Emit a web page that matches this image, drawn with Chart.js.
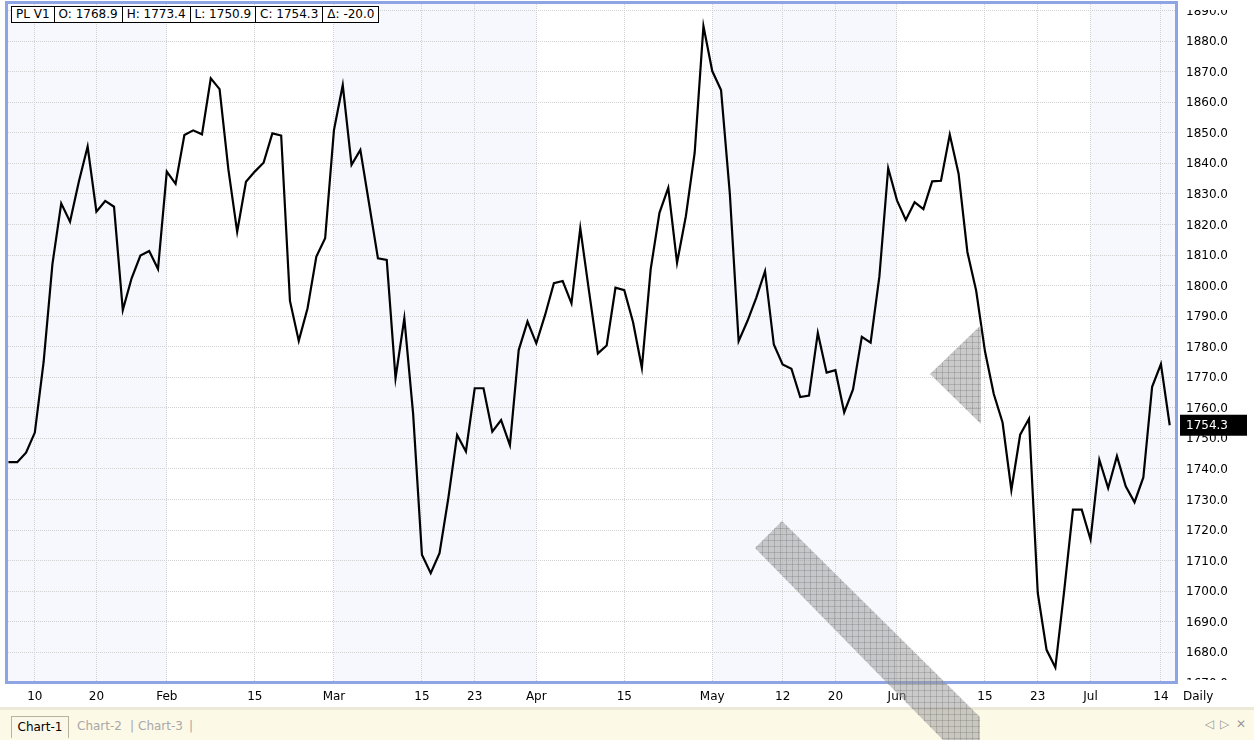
<!DOCTYPE html>
<html>
<head>
<meta charset="utf-8">
<script src="https://cdn.jsdelivr.net/npm/chart.js@4.4.0/dist/chart.umd.min.js"></script>
<style>
  html, body { margin: 0; padding: 0; background: #fff; }
  body { width: 1254px; height: 740px; position: relative; overflow: hidden;
         font-family: "DejaVu Sans", sans-serif; }
  #wrap { position: absolute; left: 0; top: 0; width: 1254px; height: 707px; }
  #info { position: absolute; left: 11px; top: 6px; display: flex; font-size: 12px; color: #000; }
  #info span { border: 1px solid #000; background: #fff; height: 15px; line-height: 15px;
               padding: 0 4px; margin-right: -1px; white-space: nowrap; }
  #tabbar { position: absolute; left: 0; top: 707px; width: 1254px; height: 33px;
            background: #fdf9e7; border-top: 3px solid #ece9d8; box-sizing: border-box;
            font-size: 12px; }
  #tabbar .t { position: absolute; top: 8px; line-height: 16px; color: #a8a8a8; }
  #tabbar .on { left: 11px; top: 6px; width: 56px; height: 21px; line-height: 21px; color: #000;
                background: #fbf8ea; border: 1px solid #b8b39c; border-bottom: none;
                text-align: center; }
  #tabbar .nav { position: absolute; top: 7px; color: #9a9a9a; font-size: 12px; }
  #overlay { position: absolute; left: 0; top: 0; pointer-events: none; }
</style>
</head>
<body>
<div id="wrap"><canvas id="plChart" width="1254" height="707"></canvas></div>
<div id="info"></div>
<div id="tabbar">
  <div class="t on">Chart-1</div>
  <div class="t" style="left:77px">Chart-2</div>
  <div class="t" style="left:130px">|</div>
  <div class="t" style="left:138px">Chart-3</div>
  <div class="t" style="left:189px">|</div>
  <div class="nav" style="left:1205px">&#9665;</div>
  <div class="nav" style="left:1220px">&#9655;</div>
  <div class="nav" style="left:1236px">&#10005;</div>
</div>
<svg id="overlay" width="1254" height="740">
  <defs>
    <pattern id="hatch" width="6" height="6" patternUnits="userSpaceOnUse">
      <rect width="6" height="6" fill="rgba(150,150,150,0.5)"/>
      <path d="M0 0.5H6M0.5 0V6" stroke="rgba(110,110,110,0.3)" stroke-width="1"/>
    </pattern>
  </defs>
  <polygon points="930,374 981,325 981,424" fill="url(#hatch)"/>
  <polygon points="782,521 980,717 980,740 943,740 755,548" fill="url(#hatch)"/>
</svg>
<script>
// daily closes, PL (platinum) front month, first bar = 5 Jan
const closes = [
  1742.2, 1742.2, 1745.3, 1751.9, 1775.0, 1807.0, 1826.9, 1820.9, 1834.0, 1845.5,
  1824.2, 1827.7, 1825.8, 1792.0, 1802.4, 1809.8, 1811.3, 1805.4, 1837.3, 1833.3,
  1849.3, 1850.8, 1849.5, 1867.8, 1864.3, 1838.0, 1817.6, 1834.0, 1837.3, 1840.2,
  1849.8, 1849.1, 1795.0, 1781.9, 1792.6, 1809.5, 1815.5, 1850.9, 1865.6, 1839.5,
  1844.4, 1826.7, 1808.9, 1808.4, 1769.7, 1789.3, 1758.0, 1711.9, 1705.9, 1712.4,
  1730.4, 1751.1, 1745.7, 1766.4, 1766.4, 1752.2, 1756.0, 1747.8, 1778.9, 1788.2,
  1781.1, 1790.4, 1800.8, 1801.5, 1794.2, 1818.8, 1798.0, 1777.8, 1780.4, 1799.3,
  1798.5, 1788.0, 1773.1, 1805.3, 1823.8, 1832.0, 1807.5, 1822.7, 1843.4, 1884.9,
  1870.2, 1864.0, 1830.0, 1781.8, 1788.4, 1796.0, 1804.7, 1780.7, 1774.2, 1772.8,
  1763.5, 1764.0, 1784.5, 1771.5, 1772.3, 1758.5, 1766.0, 1783.2, 1781.3, 1803.0,
  1838.4, 1827.9, 1821.5, 1827.3, 1825.0, 1834.1, 1834.3, 1849.4, 1836.6, 1811.0,
  1798.3, 1778.5, 1764.5, 1755.2, 1733.1, 1751.2, 1756.4, 1699.4, 1680.8, 1675.0,
  1700.0, 1726.7, 1726.7, 1716.9, 1743.0, 1733.7, 1744.2, 1734.3, 1729.1, 1737.2,
  1766.9, 1774.3, 1754.3
];

// bar index of each date label on the time axis
const tickIdx  = [3, 10, 18, 28, 37, 47, 53, 60, 70, 80, 88, 94, 101, 111, 117, 123, 131];
const tickText = ['10', '20', 'Feb', '15', 'Mar', '15', '23', 'Apr', '15', 'May', '12', '20', 'Jun', '15', '23', 'Jul', '14'];

// price axis labels
const priceLabels = [];
for (let v = 1670; v <= 1890; v += 10) priceLabels.push(v);

const lastBar = { symbol: 'PL V1', open: 1768.9, high: 1773.4, low: 1750.9 };

const FONT = '12px "DejaVu Sans", sans-serif';

// month starts = ticks that carry a month name
const monthStarts = tickIdx.filter((v, i) => isNaN(Number(tickText[i])));

// header boxes
const last = closes[closes.length - 1];
const prev = closes[closes.length - 2];
const infoParts = [
    lastBar.symbol,
    'O: ' + lastBar.open.toFixed(1),
    'H: ' + lastBar.high.toFixed(1),
    'L: ' + lastBar.low.toFixed(1),
    'C: ' + last.toFixed(1),
    '\u0394: ' + (last - prev).toFixed(1)
];
document.getElementById('info').innerHTML = infoParts.map(t => `<span>${t}</span>`).join('');

const chartDecor = {
    id: 'chartDecor',
    beforeDraw(chart) {
        const { ctx, chartArea: a, scales: { x } } = chart;
        ctx.save();
        ctx.fillStyle = '#fff';
        ctx.fillRect(0, 0, chart.width, chart.height);
        // alternate month shading, Jan shaded
        const edges = [x.min, ...monthStarts, x.max];
        ctx.fillStyle = '#f7f8fe';
        for (let k = 0; k < edges.length - 1; k += 2) {
            const x0 = Math.max(a.left, x.getPixelForValue(edges[k]));
            const x1 = Math.min(a.right, x.getPixelForValue(edges[k + 1]));
            ctx.fillRect(x0, a.top, x1 - x0, a.bottom - a.top);
        }
        ctx.restore();
    },
    afterDatasetsDraw(chart) {
        const { ctx, chartArea: a, scales: { y } } = chart;
        ctx.save();
        // frame
        ctx.strokeStyle = '#8fa5e3';
        ctx.lineWidth = 3;
        ctx.strokeRect(a.left - 1.5, a.top - 1.5, a.right - a.left + 3, a.bottom - a.top + 3);

        // price labels, clipped to the plot height
        ctx.beginPath();
        ctx.rect(a.right + 3, a.top + 6, 100, a.bottom - a.top - 7);
        ctx.clip();
        ctx.font = FONT;
        ctx.fillStyle = '#000';
        ctx.textAlign = 'left';
        ctx.textBaseline = 'middle';
        priceLabels.forEach(v => {
            ctx.fillText(v.toFixed(1), a.right + 11, y.getPixelForValue(v) + 1);
        });
        ctx.restore();

        // last price marker
        ctx.save();
        const py = y.getPixelForValue(last);
        ctx.fillStyle = '#000';
        ctx.fillRect(a.right + 5, py - 10.5, 67, 21);
        ctx.fillStyle = '#fff';
        ctx.font = FONT;
        ctx.textBaseline = 'middle';
        ctx.fillText(last.toFixed(1), a.right + 11, py + 1);

        // period label under the price axis
        ctx.fillStyle = '#000';
        ctx.fillText('Daily', a.right + 8, a.bottom + 16);
        ctx.restore();
    }
};

new Chart(document.getElementById('plChart'), {
    type: 'line',
    data: {
        datasets: [{
            label: 'PL V1',
            data: closes.map((c, i) => ({ x: i, y: c })),
            borderColor: '#000',
            borderWidth: 2.2,
            pointRadius: 0,
            tension: 0,
            fill: false
        }]
    },
    options: {
        responsive: false,
        animation: false,
        layout: { padding: { left: 8, top: 4, right: 0, bottom: 0 } },
        plugins: {
            legend: { display: false },
            tooltip: { enabled: false }
        },
        scales: {
            x: {
                type: 'linear',
                min: -0.05,
                max: 132.6,
                afterBuildTicks: s => { s.ticks = tickIdx.map(v => ({ value: v })); },
                afterFit: s => { s.height = 26; },
                ticks: {
                    autoSkip: false,
                    maxRotation: 0,
                    padding: 9,
                    color: '#000',
                    font: { family: 'DejaVu Sans', size: 12 },
                    callback: (v, i) => tickText[i]
                },
                grid: { color: '#d2d2d2', drawTicks: false },
                border: { display: false, dash: [1, 1] }
            },
            y: {
                position: 'right',
                min: 1670.6,
                max: 1892.15,
                afterFit: s => { s.width = 79; },
                ticks: { stepSize: 10, display: false, includeBounds: false },
                grid: { color: '#d2d2d2', drawTicks: false },
                border: { display: false, dash: [1, 1] }
            }
        }
    },
    plugins: [chartDecor]
});
</script>
</body>
</html>
